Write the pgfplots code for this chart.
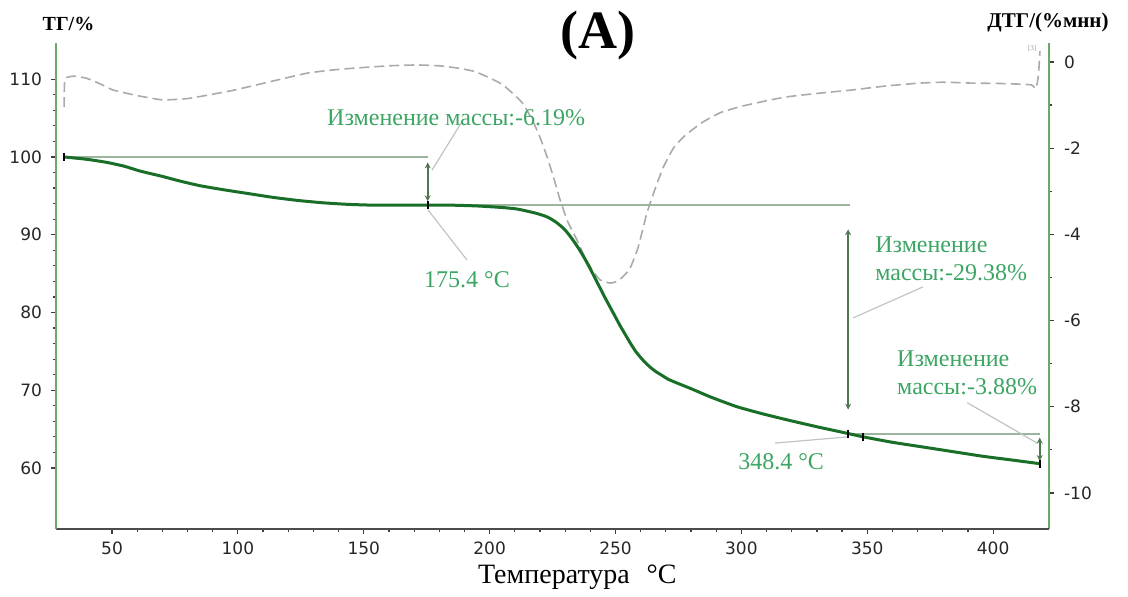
\documentclass[border=0pt]{standalone}
\usepackage{fontspec}
\setmainfont{Liberation Serif}
\newfontfamily\tickfont{DejaVu Sans}
\usepackage{pgfplots}
\pgfplotsset{compat=1.18}
\usetikzlibrary{arrows.meta}

\definecolor{tgline}{RGB}{25,110,40}
\definecolor{axgreen}{RGB}{105,170,105}
\definecolor{anno}{RGB}{60,165,100}
\definecolor{guide}{RGB}{155,180,155}
\definecolor{arrowc}{RGB}{80,120,80}
\definecolor{leader}{RGB}{195,195,195}
\definecolor{dtg}{RGB}{170,170,170}

\pgfplotsset{
  common/.style={
    scale only axis, width=496.5pt, height=243pt,
    xmin=27.75, xmax=422.2,
    axis line style={-, line width=1pt},
    tick style={black!75, line width=0.6pt},
    tick align=outside,
    major tick length=2.5pt, minor tick length=1.5pt,
    tick label style={font=\tickfont\fontsize{8.5}{9}\selectfont, text=black!85},
    /pgf/number format/assume math mode=true,
    clip=false,
  }
}

\begin{document}
\begin{tikzpicture}
% DTG (right axis)
\begin{axis}[common,
  hide x axis, axis y line*=right,
  y axis line style={axgreen},
  ymin=-10.835, ymax=0.44,
  ytick={-10,-8,-6,-4,-2,0}, minor y tick num=1,
  yticklabel style={xshift=1.5pt},
]
\addplot[dtg, line width=0.8pt, dash pattern=on 5pt off 2.5pt, smooth, tension=0.3] coordinates {
(31,-1.05)(31.3,-0.40)(35,-0.33)(40,-0.38)(45,-0.50)(50.4,-0.65)(60,-0.78)
(70,-0.88)(80,-0.85)(88,-0.77)(98,-0.66)(107.6,-0.53)(117,-0.40)(127.5,-0.26)
(137,-0.19)(147,-0.14)(160,-0.09)(171,-0.07)(180,-0.09)(187,-0.14)(194,-0.22)
(200,-0.37)(205,-0.52)(209,-0.72)(213,-0.95)(217,-1.35)(220,-1.75)(222.8,-2.2)
(225.5,-2.7)(228,-3.2)(231,-3.7)(234.7,-4.13)(238,-4.55)(241,-4.85)(244,-5.06)
(248,-5.13)(251,-5.08)(254,-4.92)(256,-4.76)(259,-4.3)(262.5,-3.5)(266,-2.9)
(269,-2.44)(273,-2.0)(277,-1.74)(284,-1.42)(291.5,-1.18)(300,-1.03)(310,-0.90)
(318,-0.81)(330,-0.73)(344,-0.65)(357,-0.56)(371,-0.49)(381,-0.47)(391,-0.49)
(403,-0.50)(415,-0.53)(417,-0.62)(418,-0.30)(418.6,0.25)
};
\node[font=\fontsize{3.5}{4}\selectfont, text=black!40] at (axis cs:415.5,0.31) {[3]};
\end{axis}

% TG (left axis)
\begin{axis}[common, name=tg,
  axis x line*=bottom, axis y line*=left,
  x axis line style={black!70}, y axis line style={axgreen},
  ymin=52.15, ymax=114.66,
  xtick={50,100,...,400}, minor x tick num=4,
  ytick={60,70,...,110}, minor y tick num=4,
  xticklabel style={yshift=-0.5pt},
  yticklabel style={xshift=-1pt},
]
% guide lines
\draw[guide, line width=1pt] (axis cs:31,100) -- (axis cs:175.4,100);
\draw[guide, line width=1pt] (axis cs:175.4,93.81) -- (axis cs:343,93.81);
\draw[guide, line width=1pt] (axis cs:343,64.43) -- (axis cs:418.7,64.43);
% leader lines
\draw[leader, line width=0.6pt] (axis cs:189.5,104.8) -- (axis cs:177.1,98.3);
\draw[leader, line width=0.6pt] (axis cs:175.5,93.2) -- (axis cs:191,86.75);
\draw[leader, line width=0.6pt] (axis cs:372.2,83.3) -- (axis cs:344.4,79.3);
\draw[leader, line width=0.6pt] (axis cs:389.7,68.4) -- (axis cs:417.5,63.2);
\draw[leader, line width=0.6pt] (axis cs:313.4,63.2) -- (axis cs:342.4,64.0);
% double arrows
\draw[arrowc, line width=0.8pt, {Stealth[length=3pt,width=3pt]}-{Stealth[length=3pt,width=3pt]}]
  (axis cs:175.4,99.3) -- (axis cs:175.4,94.3);
\draw[arrowc, line width=0.8pt, {Stealth[length=3pt,width=3pt]}-{Stealth[length=3pt,width=3pt]}]
  (axis cs:342.4,90.7) -- (axis cs:342.4,67.5);
\draw[arrowc, line width=0.8pt, {Stealth[length=3pt,width=3pt]}-{Stealth[length=3pt,width=3pt]}]
  (axis cs:418.5,63.9) -- (axis cs:418.5,60.9);

\addplot[tgline, line width=1.5pt, smooth, tension=0.3] coordinates {
(31,100.0)(40,99.7)(48,99.3)(55,98.8)(61,98.2)(70,97.5)(77,96.9)(85,96.3)
(94,95.8)(104,95.3)(114,94.8)(124,94.4)(134,94.1)(144,93.9)(154,93.8)(165,93.8)
(175.4,93.81)(185,93.8)(195,93.7)(205,93.5)(211,93.3)(218,92.8)(222,92.4)
(224,92.1)(226,91.7)(228,91.2)(230,90.6)(232,89.8)(234,88.9)(236,87.9)
(238,86.8)(240,85.6)(243,83.7)(246,81.8)(248,80.6)(250,79.4)(252,78.2)
(254,77.1)(256,76.0)(258,75.0)(260,74.2)(262,73.5)(264,72.9)(266,72.4)
(268,72.0)(271,71.4)(275,70.85)(280,70.2)(288,69.1)(298,67.9)(308,67.0)
(318,66.2)(330,65.3)(342.4,64.43)(348.4,64.0)(360,63.3)(372,62.7)(384,62.1)
(396,61.5)(408,61.0)(418.5,60.55)
};
\addplot[only marks, mark=|, mark size=2pt, black, mark options={line width=0.8pt}] coordinates {
(31,100)(175.4,93.81)(342.4,64.43)(348.4,64.0)(418.5,60.55)
};

% annotation texts
\begin{scope}[every node/.style={font=\fontsize{12}{14}\selectfont, text=anno}]
\node at (axis cs:186.7,105.0) {Изменение массы:-6.19\%};
\node at (axis cs:191,84.2) {175.4 °C};
\node[anchor=west, align=left] at (axis cs:350.4,86.9) {Изменение\\массы:-29.38\%};
\node[anchor=west, align=left] at (axis cs:359.1,72.3) {Изменение\\массы:-3.88\%};
\node at (axis cs:315.8,60.8) {348.4 °C};
\end{scope}

% titles and labels
\node[font=\bfseries\fontsize{27}{29}\selectfont] at (rel axis cs:0.546,1) [yshift=3.5pt] {(A)};
\node[font=\bfseries\fontsize{10}{12}\selectfont] at (rel axis cs:0,1) [xshift=6.25pt, yshift=9.5pt] {ТГ/\%};
\node[font=\bfseries\fontsize{10.5}{12}\selectfont] at (rel axis cs:1,1) [xshift=-0.5pt, yshift=10.5pt] {ДТГ/(\%мнн)};
\node[font=\fontsize{14}{16}\selectfont] at (rel axis cs:0.525,0) [yshift=-24pt] {Температура\hspace{0.6em}°C};
\end{axis}
\pgfresetboundingbox
\path ([shift={(-28pt,-34pt)}]tg.south west) rectangle ([shift={(39.5pt,21.5pt)}]tg.north east);
\end{tikzpicture}
\end{document}
